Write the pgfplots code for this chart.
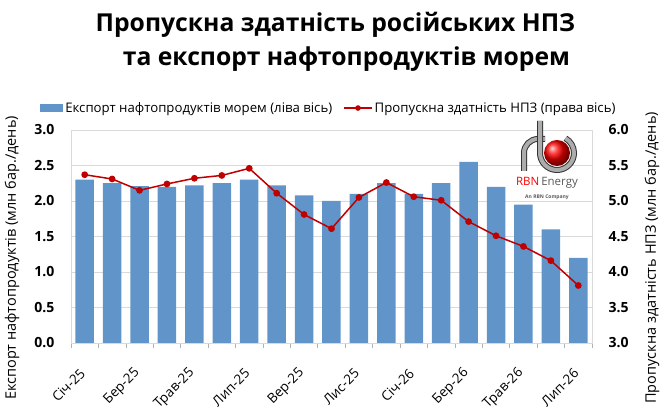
\documentclass[border=0pt]{standalone}
\usepackage{fontspec}
\setmainfont{Open Sans}
\usepackage{pgfplots}
\pgfplotsset{compat=1.18}
\definecolor{barblue}{HTML}{6195C9}
\definecolor{linered}{HTML}{C00000}
\definecolor{gridgray}{HTML}{D9D9D9}

\pgfplotstableread{
x exports
0 2.30
1 2.25
2 2.21
3 2.20
4 2.22
5 2.25
6 2.30
7 2.22
8 2.08
9 2.00
10 2.10
11 2.25
12 2.10
13 2.25
14 2.55
15 2.20
16 1.95
17 1.60
18 1.20
}\exports

\pgfplotstableread{
x runs
0 5.37
1 5.31
2 5.15
3 5.24
4 5.32
5 5.36
6 5.46
7 5.11
8 4.81
9 4.61
10 5.05
11 5.26
12 5.06
13 5.01
14 4.71
15 4.51
16 4.36
17 4.16
18 3.81
}\runs

\begin{document}
\begin{tikzpicture}
\begin{axis}[
  scale only axis, width=521pt, height=213pt,
  at={(0,0)}, anchor=south west,
  xmin=-0.5, xmax=18.5, ymin=0, ymax=3,
  ytick={0,0.5,...,3},
  xtick={0,2,...,18},
  xticklabels={Січ-25,Бер-25,Трав-25,Лип-25,Вер-25,Лис-25,Січ-26,Бер-26,Трав-26,Лип-26},
  minor xtick={-0.5,0.5,...,18.5},
  xtick pos=bottom, ytick pos=left,
  tick align=outside,
  major tick length=0pt,
  minor tick length=5pt,
  minor tick style={draw=gray!60, line width=0.6pt},
  axis line style={draw=gridgray, line width=0.8pt},
  ymajorgrids, grid style={draw=gridgray, line width=0.7pt},
  /pgf/number format/assume math mode=true,
  /pgf/number format/.cd, fixed, fixed zerofill, precision=1, /pgfplots/.cd,
  yticklabel style={font=\fontsize{14}{16}\selectfont\bfseries, xshift=-13pt},
  xticklabel style={font=\fontsize{13.5}{15}\selectfont, xshift=-2pt, yshift=-28pt, rotate=45, anchor=east, inner sep=0pt},
  legend columns=2,
  legend style={at={(axis description cs:0.495,1)}, anchor=south, yshift=12pt,
    draw=none, fill=none, font=\fontsize{13.2}{15}\selectfont,
    /tikz/every even column/.append style={column sep=9pt}},
]
\addplot[ybar, bar width=18.5pt, fill=barblue, draw=none,
  legend image code/.code={\fill[barblue] (0pt,-4pt) rectangle (23pt,4pt);}]
  table[x=x, y=exports] {\exports};
\addlegendentry{Експорт нафтопродуктів морем (ліва вісь)}
\addlegendimage{linered, line width=1.5pt,
  legend image code/.code={\draw[linered, line width=1.5pt] (0pt,0pt) -- (28pt,0pt); \fill[linered] (14pt,0pt) circle (2pt);}}
\addlegendentry{Пропускна здатність НПЗ (права вісь)}
\end{axis}
\begin{axis}[
  scale only axis, width=521pt, height=213pt,
  at={(0,0)}, anchor=south west,
  xmin=-0.5, xmax=18.5, ymin=3, ymax=6,
  ytick={3,3.5,...,6},
  axis x line=none,
  axis y line*=right,
  axis line style={draw=gridgray, line width=0.8pt},
  major tick length=0pt,
  /pgf/number format/assume math mode=true,
  /pgf/number format/.cd, fixed, fixed zerofill, precision=1, /pgfplots/.cd,
  yticklabel style={font=\fontsize{14}{16}\selectfont\bfseries, xshift=13pt},
]
\addplot[linered, line width=1.5pt, mark=*, mark size=2.6pt, mark options={fill=linered}]
  table[x=x, y=runs] {\runs};
\end{axis}
% titles
\node[anchor=base, font=\fontsize{24.7}{28}\selectfont\bfseries] at (264.5pt,311pt) {Пропускна здатність російських НПЗ};
\node[anchor=base, font=\fontsize{24.7}{28}\selectfont\bfseries] at (275.5pt,277.5pt) {та експорт нафтопродуктів морем};
% axis titles
\node[rotate=90, font=\fontsize{14.5}{16}\selectfont] at (-59pt,85pt) {Експорт нафтопродуктів (млн бар./день)};
\node[rotate=90, font=\fontsize{14.5}{16}\selectfont] at (581pt,85pt) {Пропускна здатність НПЗ (млн бар./день)};
% logo
\begin{scope}
  \draw[gray!40!black, line width=6pt] (453pt,172pt) -- (453pt,190pt) arc[start angle=180, end angle=90, radius=14pt] -- (474pt,204pt);
  \draw[gray!65, line width=4pt] (453pt,172pt) -- (453pt,190pt) arc[start angle=180, end angle=90, radius=14pt] -- (474pt,204pt);
  \draw[gray!40!black, line width=6pt] (469pt,222pt) -- (469pt,190pt) arc[start angle=180, end angle=360, radius=17pt] arc[start angle=0, end angle=60, radius=17pt];
  \draw[gray!65, line width=4pt] (469pt,222pt) -- (469pt,190pt) arc[start angle=180, end angle=360, radius=17pt] arc[start angle=0, end angle=60, radius=17pt];
  \shade[ball color=red] (486pt,190pt) circle (13pt);
  \node[font=\fontsize{11.5}{14}\selectfont] at (476pt,160pt) {\textcolor{red}{RBN}\,\textcolor{gray!70!black}{Energy}};
  \node[font=\fontsize{5}{6}\selectfont\bfseries, text=gray!70!black] at (476pt,146pt) {An RBN Company};
\end{scope}
\pgfresetboundingbox
\useasboundingbox (-71pt,-76pt) rectangle (594pt,343pt);
\end{tikzpicture}
\end{document}
